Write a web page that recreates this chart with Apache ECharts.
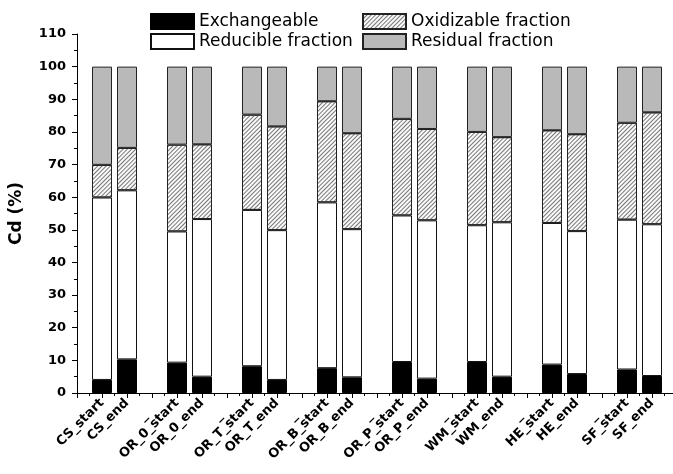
<!DOCTYPE html>
<html>
<head>
<meta charset="utf-8">
<script src="https://cdn.jsdelivr.net/npm/echarts@6/dist/echarts.min.js"></script>
<style>
  html, body { margin: 0; padding: 0; background: #fff; }
  #chart { width: 673px; height: 474px; }
</style>
</head>
<body>
<div id="chart"></div>
<script>
// Samples along the x axis; '--' marks an empty separator column
const categories = [
  'CS_start', 'CS_end', '--',
  'OR_0_start', 'OR_0_end', '--',
  'OR_T_start', 'OR_T_end', '--',
  'OR_B_start', 'OR_B_end', '--',
  'OR_P_start', 'OR_P_end', '--',
  'WM_start', 'WM_end', '--',
  'HE_start', 'HE_end', '--',
  'SF_start', 'SF_end'
];

// Cd fractions (% of total), null for separator columns
const exchangeable = [4.0, 10.3, null, 9.3, 5.0, null, 8.2, 4.0, null, 7.6, 4.8, null, 9.5, 4.4, null, 9.5, 5.0, null, 8.7, 5.8, null, 7.2, 5.2];
const reducible    = [55.9, 51.8, null, 40.2, 48.3, null, 47.9, 45.9, null, 50.8, 45.4, null, 44.9, 48.5, null, 41.9, 47.3, null, 43.4, 43.8, null, 45.9, 46.5];
const oxidizable   = [10.0, 13.0, null, 26.6, 22.9, null, 29.2, 31.8, null, 31.0, 29.4, null, 29.6, 28.0, null, 28.6, 26.1, null, 28.4, 29.7, null, 29.7, 34.3];
const residual     = [30.1, 24.9, null, 23.9, 23.8, null, 14.7, 18.3, null, 10.6, 20.4, null, 16.0, 19.1, null, 20.0, 21.6, null, 19.5, 20.7, null, 17.2, 14.0];

const yTicks = { min: 0, max: 110, step: 10 };

const FONT = 'DejaVu Sans';

// one empty slot on each side of the samples leaves a margin of one column
const axisCats = [''].concat(categories, ['']);
const padded = arr => [null].concat(arr, [null]);

const chart = echarts.init(document.getElementById('chart'), null, { renderer: 'canvas' });

const baseBar = {
  type: 'bar',
  stack: 'cd',
  barWidth: 20,
  xAxisIndex: 0,
  animation: false
};

const legendCommon = {
  orient: 'vertical',
  top: 13,
  padding: 0,
  itemWidth: 43,
  itemHeight: 15,
  itemGap: 3,
  icon: 'rect',
  textStyle: { fontFamily: FONT, fontSize: 17, color: '#000' },
  selectedMode: false
};

chart.setOption({
  backgroundColor: '#fff',
  animation: false,
  legend: [
    Object.assign({ left: 150, data: ['Exchangeable', 'Reducible fraction'] }, legendCommon),
    Object.assign({ left: 362, data: ['Oxidizable fraction', 'Residual fraction'] }, legendCommon)
  ],
  grid: { left: 77, right: -4, top: 34, bottom: 81, containLabel: false, outerBoundsMode: 'none' },
  xAxis: [
    {
      // sample axis: bars and labels
      type: 'category',
      data: axisCats,
      boundaryGap: false,
      position: 'bottom',
      axisLine: { show: true, onZero: false, lineStyle: { color: '#000', width: 1 } },
      axisTick: { show: true, inside: false, length: 5, interval: 0, lineStyle: { color: '#000' } },
      splitLine: { show: false },
      axisLabel: {
        interval: 0,
        rotate: 45,
        margin: 8,
        fontFamily: FONT,
        fontSize: 13,
        fontWeight: 'bold',
        color: '#000',
        formatter: name => (name === '--' ? '{gap|_}' : name),
        rich: {
          gap: { fontFamily: FONT, fontSize: 13, fontWeight: 'bold', color: '#000', padding: [8, 14, 0, 0] }
        }
      }
    },
    {
      // companion axis that only draws the half-step minor ticks
      type: 'value',
      min: -1,
      max: 23,
      interval: 1,
      position: 'bottom',
      axisLine: { show: false, onZero: false },
      axisTick: { show: false },
      axisLabel: { show: false },
      splitLine: { show: false },
      minorTick: { show: true, splitNumber: 2, length: 3, lineStyle: { color: '#000' } },
      minorSplitLine: { show: false }
    }
  ],
  yAxis: {
    type: 'value',
    min: yTicks.min,
    max: yTicks.max,
    interval: yTicks.step,
    name: 'Cd (%)',
    nameLocation: 'middle',
    nameGap: 52,
    nameTextStyle: { fontFamily: FONT, fontSize: 17, fontWeight: 'bold', color: '#000' },
    splitLine: { show: false },
    axisLine: { show: true, onZero: false, lineStyle: { color: '#000', width: 1 } },
    axisTick: { show: true, inside: false, length: 5, lineStyle: { color: '#000' } },
    minorTick: { show: true, splitNumber: 2, length: 3, lineStyle: { color: '#000' } },
    axisLabel: { margin: 11, fontFamily: FONT, fontSize: 13, fontWeight: 'bold', color: '#000' }
  },
  series: [
    Object.assign({}, baseBar, {
      name: 'Exchangeable',
      data: padded(exchangeable),
      itemStyle: { color: '#000', borderColor: '#000', borderWidth: 1 }
    }),
    Object.assign({}, baseBar, {
      name: 'Reducible fraction',
      data: padded(reducible),
      itemStyle: { color: '#fff', borderColor: '#111', borderWidth: 1 }
    }),
    Object.assign({}, baseBar, {
      name: 'Oxidizable fraction',
      data: padded(oxidizable),
      itemStyle: {
        color: '#fafafa',
        borderColor: '#222',
        borderWidth: 1,
        decal: {
          symbol: 'rect',
          symbolSize: 1,
          dashArrayX: [1, 0],
          dashArrayY: [1, 2],
          rotation: -Math.PI / 4,
          color: '#777'
        }
      }
    }),
    Object.assign({}, baseBar, {
      name: 'Residual fraction',
      data: padded(residual),
      itemStyle: { color: '#b9b9b9', borderColor: '#222', borderWidth: 1 }
    })
  ]
});
</script>
</body>
</html>
